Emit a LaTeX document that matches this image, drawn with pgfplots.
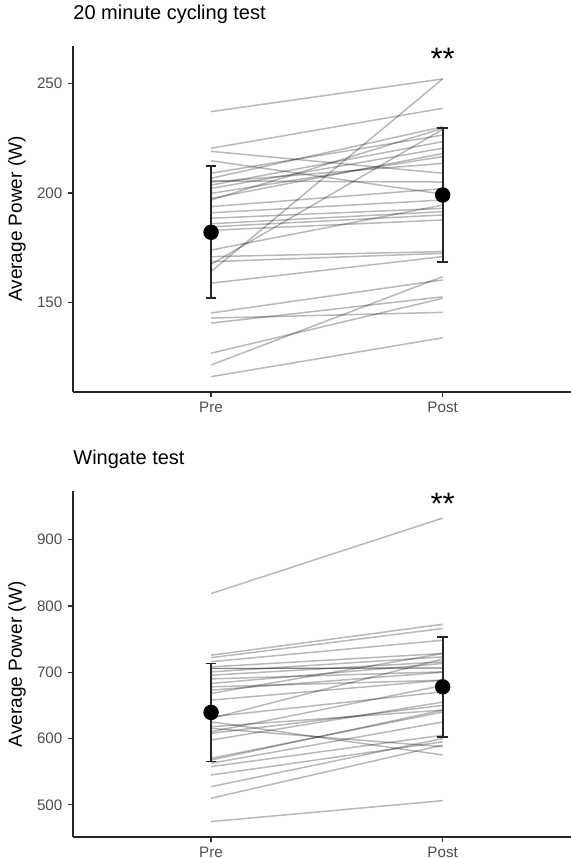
\documentclass[border=0pt]{standalone}
\usepackage{fontspec}
\setmainfont{Liberation Sans}
\usepackage{pgfplots}
\pgfplotsset{compat=1.18}
\definecolor{tickgray}{HTML}{4D4D4D}
\definecolor{axgray}{HTML}{333333}
\pgfplotsset{
  myax/.style={
    scale only axis, width=249pt, height=173pt,
    axis lines=left, axis line style={-, line width=0.9pt, color=black!85},
    xmin=0.404, xmax=2.554,
    xtick={1,2}, xticklabels={Pre,Post},
    tick align=outside, major tick length=2.5pt,
    tick style={line width=0.6pt, color=axgray},
    minor tick num=0,
    ticklabel style={font=\fontsize{7.6}{9}\selectfont, text=tickgray},
    yticklabel style={inner sep=0pt, xshift=-2.6pt},
    xticklabel style={inner sep=0pt, yshift=-2.2pt},
    /pgf/number format/assume math mode=true,
    every axis y label/.style={at={(axis description cs:-0.0803,0.5)}, rotate=90, anchor=south, font=\fontsize{9.5}{11}\selectfont},
    title style={at={(axis description cs:0,1)}, anchor=base west, inner sep=0pt, yshift=7.4pt, font=\fontsize{10}{12}\selectfont},
    clip=false,
    ylabel={Average Power (W)},
  },
  ind/.style={color=black, opacity=0.28, line width=0.75pt, forget plot},
  meanbar/.style={black, line width=0.9pt, mark=*, mark size=3.4pt, only marks,
    error bars/.cd, y dir=both, y explicit,
    error bar style={line width=0.9pt, color=black!85},
    error mark options={rotate=90, mark size=2.7pt, line width=0.9pt, color=black!85}},
}
\begin{document}
\begin{tikzpicture}
\useasboundingbox (0,0) rectangle (285.5pt,-429pt);
% ---------------- Top panel ----------------
\begin{axis}[myax, at={(36.5pt,-196pt)}, anchor=south west,
  ymin=109.3, ymax=267, ytick={150,200,250},
  title={20 minute cycling test}]
\addplot[ind] coordinates {(1,237.1) (2,252.0)};
\addplot[ind] coordinates {(1,220.4) (2,238.6)};
\addplot[ind] coordinates {(1,219.0) (2,209.0)};
\addplot[ind] coordinates {(1,214.7) (2,199.5)};
\addplot[ind] coordinates {(1,209.0) (2,226.4)};
\addplot[ind] coordinates {(1,206.7) (2,230.2)};
\addplot[ind] coordinates {(1,205.0) (2,213.5)};
\addplot[ind] coordinates {(1,203.6) (2,223.4)};
\addplot[ind] coordinates {(1,202.1) (2,220.4)};
\addplot[ind] coordinates {(1,199.8) (2,216.6)};
\addplot[ind] coordinates {(1,196.8) (2,229.5)};
\addplot[ind] coordinates {(1,193.8) (2,202.0)};
\addplot[ind] coordinates {(1,191.0) (2,196.8)};
\addplot[ind] coordinates {(1,188.5) (2,193.0)};
\addplot[ind] coordinates {(1,186.0) (2,191.5)};
\addplot[ind] coordinates {(1,184.6) (2,190.0)};
\addplot[ind] coordinates {(1,183.0) (2,187.7)};
\addplot[ind] coordinates {(1,174.0) (2,194.5)};
\addplot[ind] coordinates {(1,171.0) (2,173.3)};
\addplot[ind] coordinates {(1,167.5) (2,229.0)};
\addplot[ind] coordinates {(1,164.2) (2,252.0)};
\addplot[ind] coordinates {(1,158.9) (2,171.0)};
\addplot[ind] coordinates {(1,145.3) (2,160.4)};
\addplot[ind] coordinates {(1,143.0) (2,145.6)};
\addplot[ind] coordinates {(1,140.7) (2,152.7)};
\addplot[ind] coordinates {(1,127.0) (2,152.0)};
\addplot[ind] coordinates {(1,121.6) (2,161.9)};
\addplot[ind] coordinates {(1,116.3) (2,134.0)};
\addplot[ind] coordinates {(1,168.7) (2,172.5)};
\addplot[ind] coordinates {(1,205.5) (2,205.0)};
\addplot[ind] coordinates {(1,197.5) (2,218.0)};
\addplot[meanbar] coordinates {(1,182.1) +- (0,30.1) (2,199.1) +- (0,30.7)};
\node[font=\fontsize{15.5}{16}\selectfont, anchor=base, inner sep=0pt] at (axis cs:2,256.5) {**};
\end{axis}
% ---------------- Bottom panel ----------------
\begin{axis}[myax, at={(36.5pt,-418.65pt)}, anchor=south west,
  ymin=451, ymax=973, ytick={500,600,700,800,900},
  title={Wingate test}]
\addplot[ind] coordinates {(1,818.7) (2,932.6)};
\addplot[ind] coordinates {(1,725.7) (2,772.4)};
\addplot[ind] coordinates {(1,722.0) (2,766.0)};
\addplot[ind] coordinates {(1,716.0) (2,748.3)};
\addplot[ind] coordinates {(1,708.1) (2,728.3)};
\addplot[ind] coordinates {(1,705.7) (2,705.7)};
\addplot[ind] coordinates {(1,705.7) (2,707.0)};
\addplot[ind] coordinates {(1,700.6) (2,723.2)};
\addplot[ind] coordinates {(1,695.6) (2,715.7)};
\addplot[ind] coordinates {(1,690.0) (2,700.6)};
\addplot[ind] coordinates {(1,683.1) (2,713.3)};
\addplot[ind] coordinates {(1,678.0) (2,688.0)};
\addplot[ind] coordinates {(1,673.0) (2,700.0)};
\addplot[ind] coordinates {(1,668.0) (2,728.3)};
\addplot[ind] coordinates {(1,658.0) (2,688.0)};
\addplot[ind] coordinates {(1,630.4) (2,720.0)};
\addplot[ind] coordinates {(1,625.3) (2,575.2)};
\addplot[ind] coordinates {(1,617.8) (2,642.9)};
\addplot[ind] coordinates {(1,615.4) (2,587.7)};
\addplot[ind] coordinates {(1,610.2) (2,680.0)};
\addplot[ind] coordinates {(1,597.7) (2,655.0)};
\addplot[ind] coordinates {(1,570.2) (2,640.0)};
\addplot[ind] coordinates {(1,567.6) (2,642.9)};
\addplot[ind] coordinates {(1,562.7) (2,625.0)};
\addplot[ind] coordinates {(1,557.6) (2,605.0)};
\addplot[ind] coordinates {(1,545.0) (2,595.0)};
\addplot[ind] coordinates {(1,527.4) (2,600.0)};
\addplot[ind] coordinates {(1,510.0) (2,590.0)};
\addplot[ind] coordinates {(1,474.7) (2,506.3)};
\addplot[ind] coordinates {(1,632.8) (2,670.5)};
\addplot[ind] coordinates {(1,607.8) (2,650.0)};
\addplot[meanbar] coordinates {(1,639.4) +- (0,73.9) (2,678.0) +- (0,75.3)};
\node[font=\fontsize{15.5}{16}\selectfont, anchor=base, inner sep=0pt] at (axis cs:2,938) {**};
\end{axis}
\end{tikzpicture}
\end{document}
